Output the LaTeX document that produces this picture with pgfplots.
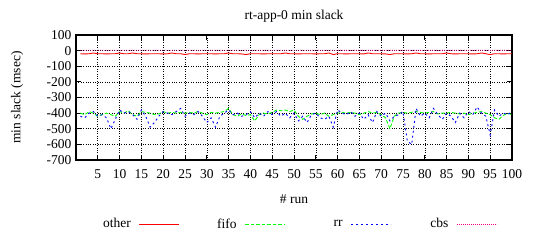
\documentclass[border=0pt]{standalone}
\usepackage{pgfplots}
\usepackage{pgfplotstable}
\pgfplotsset{compat=1.18}
\usepackage{fontspec}
\setmainfont{Liberation Serif}
\pgfplotstableread{
x other fifo rr cbs
1 -20 -400 -420 3
2 -21 -410 -430 3
3 -20 -390 -400 2
4 -15 -400 -390 3
5 -20 -420 -420 3
6 -20 -410 -410 2
7 -21 -400 -430 3
8 -20 -410 -500 3
9 -20 -420 -440 2
10 -15 -390 -380 3
11 -20 -400 -400 3
12 -20 -385 -390 2
13 -15 -410 -410 3
14 -20 -420 -440 3
15 -20 -390 -380 2
16 -21 -395 -420 3
17 -20 -400 -490 3
18 -20 -410 -460 2
19 -20 -405 -420 3
20 -21 -390 -390 3
21 -20 -400 -400 2
22 -15 -395 -410 3
23 -20 -400 -390 3
24 -20 -395 -370 2
25 -25 -400 -420 3
26 -20 -395 -400 3
27 -20 -400 -410 2
28 -21 -390 -390 3
29 -20 -400 -420 3
30 -20 -410 -460 2
31 -20 -395 -430 3
32 -21 -400 -490 3
33 -20 -395 -420 2
34 -20 -390 -400 3
35 -15 -370 -380 3
36 -20 -410 -410 2
37 -20 -420 -400 3
38 -21 -405 -420 3
39 -25 -415 -410 2
40 -20 -410 -390 3
41 -20 -450 -430 3
42 -20 -410 -400 2
43 -21 -400 -420 3
44 -20 -405 -390 3
45 -20 -395 -410 2
46 -20 -380 -390 3
47 -20 -385 -420 3
48 -15 -380 -400 2
49 -20 -390 -430 3
50 -20 -380 -400 3
51 -21 -420 -450 2
52 -20 -440 -420 3
53 -20 -420 -460 3
54 -20 -405 -410 2
55 -21 -400 -400 3
56 -20 -410 -430 3
57 -20 -400 -440 2
58 -15 -420 -420 3
59 -25 -410 -490 3
60 -20 -400 -380 2
61 -20 -395 -400 3
62 -21 -400 -410 3
63 -20 -395 -390 2
64 -20 -400 -420 3
65 -20 -410 -400 3
66 -21 -400 -440 2
67 -15 -390 -410 3
68 -20 -400 -460 3
69 -20 -395 -390 2
70 -20 -410 -420 3
71 -21 -430 -400 3
72 -25 -500 -450 2
73 -20 -420 -420 3
74 -20 -400 -410 3
75 -20 -395 -390 2
76 -21 -400 -580 3
77 -20 -395 -600 3
78 -15 -390 -370 2
79 -20 -395 -420 3
80 -20 -400 -400 3
81 -21 -395 -430 2
82 -20 -390 -370 3
83 -20 -405 -410 3
84 -20 -400 -440 2
85 -15 -400 -400 3
86 -20 -395 -420 3
87 -21 -400 -460 2
88 -20 -405 -400 3
89 -20 -400 -430 3
90 -20 -410 -390 2
91 -21 -400 -410 3
92 -20 -395 -360 3
93 -15 -390 -400 2
94 -20 -400 -420 3
95 -25 -410 -540 3
96 -20 -430 -380 2
97 -20 -440 -420 3
98 -21 -415 -400 3
99 -20 -400 -410 2
100 -20 -410 -390 3
}\datatable
\newcommand{\legtext}[1]{\makebox[56bp][l]{\makebox[50bp][r]{#1}}}
\begin{document}
\begin{tikzpicture}
\path[use as bounding box] (-76bp,-80bp) rectangle (465bp,160bp);
\begin{axis}[
  at={(0,0)}, anchor=south west,
  scale only axis, width=436bp, height=125bp,
  xmin=0, xmax=100, ymin=-700, ymax=100,
  xtick={5,10,...,100}, ytick={-700,-600,...,100},
  font=\fontsize{13.5bp}{15bp}\selectfont,
  /pgf/number format/assume math mode=true,
  /pgf/number format/.cd, 1000 sep={}, /pgfplots/.cd,
  tick pos=both, tick align=inside, major tick length=5bp,
  tick style={black, line width=0.8bp},
  axis line style={line width=1.3bp},
  grid=major, major grid style={black, dotted, line width=0.6bp},
  xticklabel style={yshift=-6bp},
  yticklabel style={xshift=-1bp},
  title={rt-app-0 min slack},
  title style={at={(0.5,1)}, anchor=south, yshift=3bp},
  xlabel={\# run},
  ylabel={min slack (msec)},
  xlabel style={at={(axis description cs:0.5,-0.25)}, anchor=center, yshift=-8bp},
  ylabel style={at={(axis description cs:-0.135,0.5)}, anchor=center},
  legend columns=4,
  legend plot pos=right,
  legend style={draw=none, fill=none, at={(0.5,-0.512)}, anchor=center, xshift=-6bp,
    /tikz/every even column/.append style={column sep=5bp}},
  legend image code/.code={\draw[#1] (0bp,0bp) -- (40bp,0bp);},
]
\addplot[red, line width=0.9bp] table[x=x, y=other] {\datatable};
\addlegendentry{\legtext{other}}
\addplot[green, line width=0.9bp, dash pattern=on 3.5bp off 2bp] table[x=x, y=fifo] {\datatable};
\addlegendentry{\legtext{fifo}}
\addplot[blue, line width=0.9bp, dash pattern=on 2bp off 3bp] table[x=x, y=rr] {\datatable};
\addlegendentry{\legtext{rr}}
\addplot[magenta, line width=0.7bp, dash pattern=on 0.8bp off 1.2bp] table[x=x, y=cbs] {\datatable};
\addlegendentry{\legtext{cbs}}
\end{axis}
\end{tikzpicture}
\end{document}
